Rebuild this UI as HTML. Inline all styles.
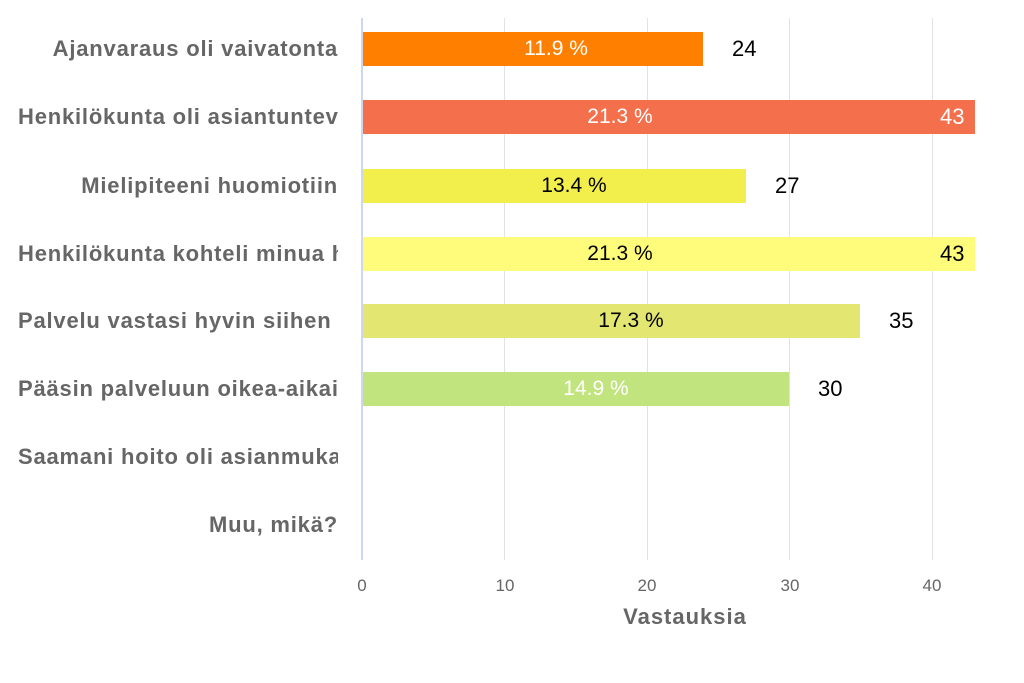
<!DOCTYPE html>
<html><head><meta charset="utf-8"><style>
body{margin:0;width:1024px;height:683px;background:#fff;position:relative;overflow:hidden;font-family:"Liberation Sans",sans-serif}
.lab{position:absolute;left:18px;width:320px;height:30px;line-height:30px;overflow:hidden;white-space:nowrap;font-weight:bold;font-size:22px;letter-spacing:0.8px;color:#666}
.r{text-align:right}
.bar{position:absolute;left:363px;height:34px}
.pl{position:absolute;width:120px;margin-left:-60px;text-align:center;font-size:21px;line-height:34px}
.val{position:absolute;font-size:22px;color:#000;line-height:34px}
.grid{position:absolute;top:18px;width:1px;height:542px;background:#e2e2e2}
.tick{position:absolute;top:576px;font-size:17px;color:#666;width:40px;margin-left:-20px;text-align:center}
</style></head><body>
<div class="grid" style="left:504px"></div>
<div class="grid" style="left:647px"></div>
<div class="grid" style="left:789px"></div>
<div class="grid" style="left:932px"></div>
<div style="position:absolute;left:361px;top:18px;width:2px;height:542px;background:#cdd8f0"></div>

<div class="lab r" style="top:34px">Ajanvaraus oli vaivatonta</div>
<div class="lab" style="top:102px">Henkilökunta oli asiantuntevaa</div>
<div class="lab r" style="top:171px">Mielipiteeni huomiotiin</div>
<div class="lab" style="top:239px">Henkilökunta kohteli minua hyvin</div>
<div class="lab" style="top:306px">Palvelu vastasi hyvin siihen tarpeeseen</div>
<div class="lab" style="top:374px">Pääsin palveluun oikea-aikaisesti</div>
<div class="lab" style="top:442px">Saamani hoito oli asianmukaista</div>
<div class="lab r" style="top:510px">Muu, mikä?</div>

<div class="bar" style="top:32px;width:340px;background:#ff8000"></div>
<div class="pl" style="top:32px;left:556px;color:#fff">11.9 %</div>
<div class="val" style="top:32px;left:732px">24</div>
<div class="bar" style="top:100px;width:612px;background:#f4704c"></div>
<div class="pl" style="top:100px;left:620px;color:#fff">21.3 %</div>
<div class="val" style="top:100px;left:940px;color:#fff">43</div>
<div class="bar" style="top:169px;width:383px;background:#f2ee4b"></div>
<div class="pl" style="top:169px;left:574px;color:#000">13.4 %</div>
<div class="val" style="top:169px;left:775px">27</div>
<div class="bar" style="top:237px;width:612px;background:#fefc7a"></div>
<div class="pl" style="top:237px;left:620px;color:#000">21.3 %</div>
<div class="val" style="top:237px;left:940px">43</div>
<div class="bar" style="top:304px;width:497px;background:#e3e670"></div>
<div class="pl" style="top:304px;left:631px;color:#000">17.3 %</div>
<div class="val" style="top:304px;left:889px">35</div>
<div class="bar" style="top:372px;width:426px;background:#c2e47f"></div>
<div class="pl" style="top:372px;left:596px;color:#fff">14.9 %</div>
<div class="val" style="top:372px;left:818px">30</div>

<div class="tick" style="left:362px">0</div>
<div class="tick" style="left:505px">10</div>
<div class="tick" style="left:647px">20</div>
<div class="tick" style="left:790px">30</div>
<div class="tick" style="left:932px">40</div>
<div style="position:absolute;left:585px;width:200px;top:604px;text-align:center;font-weight:bold;font-size:22px;letter-spacing:1px;color:#666">Vastauksia</div>
</body></html>
